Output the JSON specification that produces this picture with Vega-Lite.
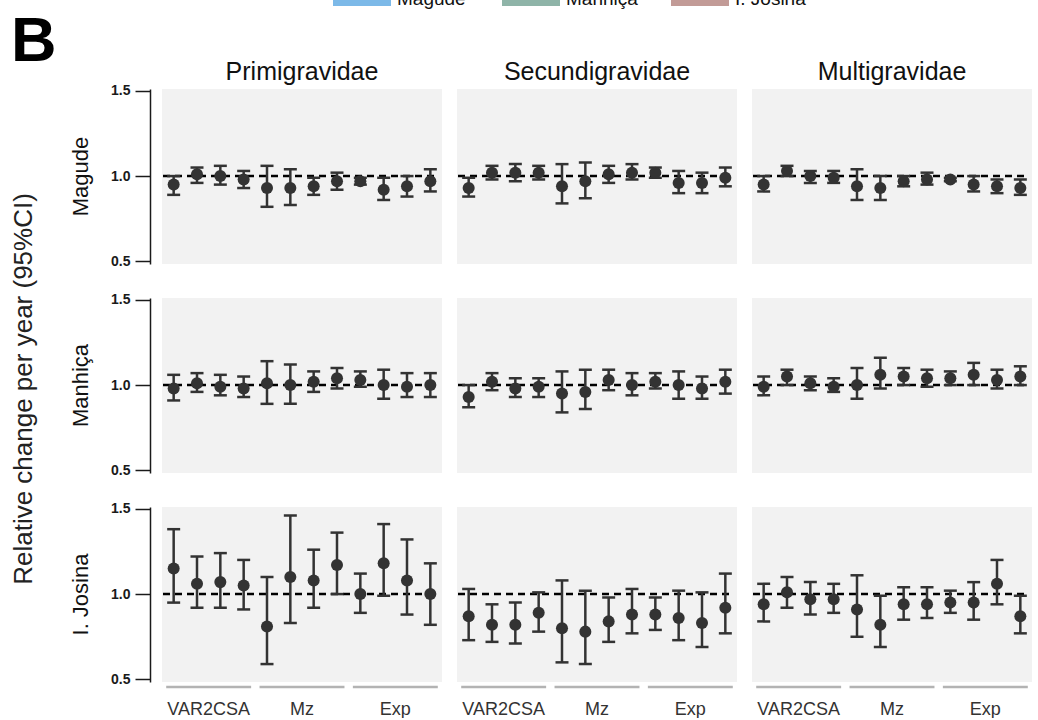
{
  "$schema": "https://vega.github.io/schema/vega-lite/v6.json",
  "padding": {"left": 10, "top": -30, "right": 0, "bottom": 0},
  "title": {"text": "B", "anchor": "start", "frame": "bounds", "fontSize": 63, "fontWeight": "bold", "color": "#000000", "offset": 2, "dy": 106},
  "data": {"values": [
    {"site":"Magude","parity":"Primigravidae","group":"VAR2CSA","item":1,"est":0.95,"lo":0.89,"hi":1.00},
    {"site":"Magude","parity":"Primigravidae","group":"VAR2CSA","item":2,"est":1.01,"lo":0.96,"hi":1.05},
    {"site":"Magude","parity":"Primigravidae","group":"VAR2CSA","item":3,"est":1.00,"lo":0.95,"hi":1.06},
    {"site":"Magude","parity":"Primigravidae","group":"VAR2CSA","item":4,"est":0.98,"lo":0.93,"hi":1.03},
    {"site":"Magude","parity":"Primigravidae","group":"Mz","item":1,"est":0.93,"lo":0.82,"hi":1.06},
    {"site":"Magude","parity":"Primigravidae","group":"Mz","item":2,"est":0.93,"lo":0.83,"hi":1.04},
    {"site":"Magude","parity":"Primigravidae","group":"Mz","item":3,"est":0.94,"lo":0.89,"hi":0.99},
    {"site":"Magude","parity":"Primigravidae","group":"Mz","item":4,"est":0.97,"lo":0.92,"hi":1.02},
    {"site":"Magude","parity":"Primigravidae","group":"Exp","item":1,"est":0.97,"lo":0.95,"hi":0.99},
    {"site":"Magude","parity":"Primigravidae","group":"Exp","item":2,"est":0.92,"lo":0.86,"hi":0.99},
    {"site":"Magude","parity":"Primigravidae","group":"Exp","item":3,"est":0.94,"lo":0.88,"hi":1.00},
    {"site":"Magude","parity":"Primigravidae","group":"Exp","item":4,"est":0.97,"lo":0.91,"hi":1.04},
    {"site":"Magude","parity":"Secundigravidae","group":"VAR2CSA","item":1,"est":0.93,"lo":0.88,"hi":0.99},
    {"site":"Magude","parity":"Secundigravidae","group":"VAR2CSA","item":2,"est":1.02,"lo":0.98,"hi":1.06},
    {"site":"Magude","parity":"Secundigravidae","group":"VAR2CSA","item":3,"est":1.02,"lo":0.97,"hi":1.07},
    {"site":"Magude","parity":"Secundigravidae","group":"VAR2CSA","item":4,"est":1.02,"lo":0.98,"hi":1.06},
    {"site":"Magude","parity":"Secundigravidae","group":"Mz","item":1,"est":0.94,"lo":0.84,"hi":1.07},
    {"site":"Magude","parity":"Secundigravidae","group":"Mz","item":2,"est":0.97,"lo":0.87,"hi":1.08},
    {"site":"Magude","parity":"Secundigravidae","group":"Mz","item":3,"est":1.01,"lo":0.96,"hi":1.06},
    {"site":"Magude","parity":"Secundigravidae","group":"Mz","item":4,"est":1.02,"lo":0.98,"hi":1.07},
    {"site":"Magude","parity":"Secundigravidae","group":"Exp","item":1,"est":1.02,"lo":0.99,"hi":1.05},
    {"site":"Magude","parity":"Secundigravidae","group":"Exp","item":2,"est":0.96,"lo":0.90,"hi":1.03},
    {"site":"Magude","parity":"Secundigravidae","group":"Exp","item":3,"est":0.96,"lo":0.90,"hi":1.02},
    {"site":"Magude","parity":"Secundigravidae","group":"Exp","item":4,"est":0.99,"lo":0.94,"hi":1.05},
    {"site":"Magude","parity":"Multigravidae","group":"VAR2CSA","item":1,"est":0.95,"lo":0.91,"hi":1.00},
    {"site":"Magude","parity":"Multigravidae","group":"VAR2CSA","item":2,"est":1.03,"lo":1.00,"hi":1.06},
    {"site":"Magude","parity":"Multigravidae","group":"VAR2CSA","item":3,"est":1.00,"lo":0.96,"hi":1.03},
    {"site":"Magude","parity":"Multigravidae","group":"VAR2CSA","item":4,"est":0.99,"lo":0.96,"hi":1.03},
    {"site":"Magude","parity":"Multigravidae","group":"Mz","item":1,"est":0.94,"lo":0.86,"hi":1.04},
    {"site":"Magude","parity":"Multigravidae","group":"Mz","item":2,"est":0.93,"lo":0.86,"hi":1.00},
    {"site":"Magude","parity":"Multigravidae","group":"Mz","item":3,"est":0.97,"lo":0.94,"hi":1.00},
    {"site":"Magude","parity":"Multigravidae","group":"Mz","item":4,"est":0.98,"lo":0.95,"hi":1.02},
    {"site":"Magude","parity":"Multigravidae","group":"Exp","item":1,"est":0.98,"lo":0.97,"hi":0.99},
    {"site":"Magude","parity":"Multigravidae","group":"Exp","item":2,"est":0.95,"lo":0.91,"hi":1.00},
    {"site":"Magude","parity":"Multigravidae","group":"Exp","item":3,"est":0.94,"lo":0.90,"hi":0.98},
    {"site":"Magude","parity":"Multigravidae","group":"Exp","item":4,"est":0.93,"lo":0.89,"hi":0.98},
    {"site":"Manhiça","parity":"Primigravidae","group":"VAR2CSA","item":1,"est":0.98,"lo":0.91,"hi":1.06},
    {"site":"Manhiça","parity":"Primigravidae","group":"VAR2CSA","item":2,"est":1.01,"lo":0.96,"hi":1.07},
    {"site":"Manhiça","parity":"Primigravidae","group":"VAR2CSA","item":3,"est":0.99,"lo":0.94,"hi":1.06},
    {"site":"Manhiça","parity":"Primigravidae","group":"VAR2CSA","item":4,"est":0.98,"lo":0.93,"hi":1.05},
    {"site":"Manhiça","parity":"Primigravidae","group":"Mz","item":1,"est":1.01,"lo":0.89,"hi":1.14},
    {"site":"Manhiça","parity":"Primigravidae","group":"Mz","item":2,"est":1.00,"lo":0.89,"hi":1.12},
    {"site":"Manhiça","parity":"Primigravidae","group":"Mz","item":3,"est":1.02,"lo":0.96,"hi":1.08},
    {"site":"Manhiça","parity":"Primigravidae","group":"Mz","item":4,"est":1.04,"lo":0.98,"hi":1.10},
    {"site":"Manhiça","parity":"Primigravidae","group":"Exp","item":1,"est":1.03,"lo":0.99,"hi":1.08},
    {"site":"Manhiça","parity":"Primigravidae","group":"Exp","item":2,"est":1.00,"lo":0.92,"hi":1.09},
    {"site":"Manhiça","parity":"Primigravidae","group":"Exp","item":3,"est":0.99,"lo":0.93,"hi":1.07},
    {"site":"Manhiça","parity":"Primigravidae","group":"Exp","item":4,"est":1.00,"lo":0.93,"hi":1.07},
    {"site":"Manhiça","parity":"Secundigravidae","group":"VAR2CSA","item":1,"est":0.93,"lo":0.87,"hi":1.00},
    {"site":"Manhiça","parity":"Secundigravidae","group":"VAR2CSA","item":2,"est":1.02,"lo":0.97,"hi":1.07},
    {"site":"Manhiça","parity":"Secundigravidae","group":"VAR2CSA","item":3,"est":0.98,"lo":0.93,"hi":1.04},
    {"site":"Manhiça","parity":"Secundigravidae","group":"VAR2CSA","item":4,"est":0.99,"lo":0.93,"hi":1.04},
    {"site":"Manhiça","parity":"Secundigravidae","group":"Mz","item":1,"est":0.95,"lo":0.84,"hi":1.08},
    {"site":"Manhiça","parity":"Secundigravidae","group":"Mz","item":2,"est":0.96,"lo":0.86,"hi":1.09},
    {"site":"Manhiça","parity":"Secundigravidae","group":"Mz","item":3,"est":1.03,"lo":0.97,"hi":1.09},
    {"site":"Manhiça","parity":"Secundigravidae","group":"Mz","item":4,"est":1.00,"lo":0.94,"hi":1.07},
    {"site":"Manhiça","parity":"Secundigravidae","group":"Exp","item":1,"est":1.02,"lo":0.98,"hi":1.07},
    {"site":"Manhiça","parity":"Secundigravidae","group":"Exp","item":2,"est":1.00,"lo":0.92,"hi":1.08},
    {"site":"Manhiça","parity":"Secundigravidae","group":"Exp","item":3,"est":0.98,"lo":0.92,"hi":1.05},
    {"site":"Manhiça","parity":"Secundigravidae","group":"Exp","item":4,"est":1.02,"lo":0.95,"hi":1.09},
    {"site":"Manhiça","parity":"Multigravidae","group":"VAR2CSA","item":1,"est":0.99,"lo":0.94,"hi":1.05},
    {"site":"Manhiça","parity":"Multigravidae","group":"VAR2CSA","item":2,"est":1.05,"lo":1.00,"hi":1.09},
    {"site":"Manhiça","parity":"Multigravidae","group":"VAR2CSA","item":3,"est":1.01,"lo":0.97,"hi":1.05},
    {"site":"Manhiça","parity":"Multigravidae","group":"VAR2CSA","item":4,"est":0.99,"lo":0.96,"hi":1.04},
    {"site":"Manhiça","parity":"Multigravidae","group":"Mz","item":1,"est":1.00,"lo":0.92,"hi":1.10},
    {"site":"Manhiça","parity":"Multigravidae","group":"Mz","item":2,"est":1.06,"lo":0.98,"hi":1.16},
    {"site":"Manhiça","parity":"Multigravidae","group":"Mz","item":3,"est":1.05,"lo":1.00,"hi":1.10},
    {"site":"Manhiça","parity":"Multigravidae","group":"Mz","item":4,"est":1.04,"lo":0.99,"hi":1.09},
    {"site":"Manhiça","parity":"Multigravidae","group":"Exp","item":1,"est":1.04,"lo":1.00,"hi":1.08},
    {"site":"Manhiça","parity":"Multigravidae","group":"Exp","item":2,"est":1.06,"lo":1.00,"hi":1.13},
    {"site":"Manhiça","parity":"Multigravidae","group":"Exp","item":3,"est":1.03,"lo":0.98,"hi":1.09},
    {"site":"Manhiça","parity":"Multigravidae","group":"Exp","item":4,"est":1.05,"lo":1.00,"hi":1.11},
    {"site":"I. Josina","parity":"Primigravidae","group":"VAR2CSA","item":1,"est":1.15,"lo":0.95,"hi":1.38},
    {"site":"I. Josina","parity":"Primigravidae","group":"VAR2CSA","item":2,"est":1.06,"lo":0.92,"hi":1.22},
    {"site":"I. Josina","parity":"Primigravidae","group":"VAR2CSA","item":3,"est":1.07,"lo":0.92,"hi":1.24},
    {"site":"I. Josina","parity":"Primigravidae","group":"VAR2CSA","item":4,"est":1.05,"lo":0.91,"hi":1.20},
    {"site":"I. Josina","parity":"Primigravidae","group":"Mz","item":1,"est":0.81,"lo":0.59,"hi":1.10},
    {"site":"I. Josina","parity":"Primigravidae","group":"Mz","item":2,"est":1.10,"lo":0.83,"hi":1.46},
    {"site":"I. Josina","parity":"Primigravidae","group":"Mz","item":3,"est":1.08,"lo":0.92,"hi":1.26},
    {"site":"I. Josina","parity":"Primigravidae","group":"Mz","item":4,"est":1.17,"lo":1.00,"hi":1.36},
    {"site":"I. Josina","parity":"Primigravidae","group":"Exp","item":1,"est":1.00,"lo":0.89,"hi":1.12},
    {"site":"I. Josina","parity":"Primigravidae","group":"Exp","item":2,"est":1.18,"lo":0.99,"hi":1.41},
    {"site":"I. Josina","parity":"Primigravidae","group":"Exp","item":3,"est":1.08,"lo":0.88,"hi":1.32},
    {"site":"I. Josina","parity":"Primigravidae","group":"Exp","item":4,"est":1.00,"lo":0.82,"hi":1.18},
    {"site":"I. Josina","parity":"Secundigravidae","group":"VAR2CSA","item":1,"est":0.87,"lo":0.73,"hi":1.03},
    {"site":"I. Josina","parity":"Secundigravidae","group":"VAR2CSA","item":2,"est":0.82,"lo":0.72,"hi":0.94},
    {"site":"I. Josina","parity":"Secundigravidae","group":"VAR2CSA","item":3,"est":0.82,"lo":0.71,"hi":0.95},
    {"site":"I. Josina","parity":"Secundigravidae","group":"VAR2CSA","item":4,"est":0.89,"lo":0.78,"hi":1.01},
    {"site":"I. Josina","parity":"Secundigravidae","group":"Mz","item":1,"est":0.80,"lo":0.60,"hi":1.08},
    {"site":"I. Josina","parity":"Secundigravidae","group":"Mz","item":2,"est":0.78,"lo":0.59,"hi":1.02},
    {"site":"I. Josina","parity":"Secundigravidae","group":"Mz","item":3,"est":0.84,"lo":0.72,"hi":0.98},
    {"site":"I. Josina","parity":"Secundigravidae","group":"Mz","item":4,"est":0.88,"lo":0.77,"hi":1.03},
    {"site":"I. Josina","parity":"Secundigravidae","group":"Exp","item":1,"est":0.88,"lo":0.79,"hi":0.98},
    {"site":"I. Josina","parity":"Secundigravidae","group":"Exp","item":2,"est":0.86,"lo":0.73,"hi":1.02},
    {"site":"I. Josina","parity":"Secundigravidae","group":"Exp","item":3,"est":0.83,"lo":0.69,"hi":1.01},
    {"site":"I. Josina","parity":"Secundigravidae","group":"Exp","item":4,"est":0.92,"lo":0.77,"hi":1.12},
    {"site":"I. Josina","parity":"Multigravidae","group":"VAR2CSA","item":1,"est":0.94,"lo":0.84,"hi":1.06},
    {"site":"I. Josina","parity":"Multigravidae","group":"VAR2CSA","item":2,"est":1.01,"lo":0.92,"hi":1.10},
    {"site":"I. Josina","parity":"Multigravidae","group":"VAR2CSA","item":3,"est":0.97,"lo":0.88,"hi":1.07},
    {"site":"I. Josina","parity":"Multigravidae","group":"VAR2CSA","item":4,"est":0.97,"lo":0.89,"hi":1.06},
    {"site":"I. Josina","parity":"Multigravidae","group":"Mz","item":1,"est":0.91,"lo":0.75,"hi":1.11},
    {"site":"I. Josina","parity":"Multigravidae","group":"Mz","item":2,"est":0.82,"lo":0.69,"hi":0.99},
    {"site":"I. Josina","parity":"Multigravidae","group":"Mz","item":3,"est":0.94,"lo":0.85,"hi":1.04},
    {"site":"I. Josina","parity":"Multigravidae","group":"Mz","item":4,"est":0.94,"lo":0.86,"hi":1.04},
    {"site":"I. Josina","parity":"Multigravidae","group":"Exp","item":1,"est":0.95,"lo":0.89,"hi":1.02},
    {"site":"I. Josina","parity":"Multigravidae","group":"Exp","item":2,"est":0.95,"lo":0.85,"hi":1.07},
    {"site":"I. Josina","parity":"Multigravidae","group":"Exp","item":3,"est":1.06,"lo":0.94,"hi":1.20},
    {"site":"I. Josina","parity":"Multigravidae","group":"Exp","item":4,"est":0.87,"lo":0.77,"hi":0.99}
  ]},
  "facet": {
    "row": {"field": "site", "type": "nominal", "sort": ["Magude", "Manhiça", "I. Josina"], "title": "Relative change per year (95%CI)"},
    "column": {"field": "parity", "type": "nominal", "sort": ["Primigravidae", "Secundigravidae", "Multigravidae"], "title": null}
  },
  "spacing": {"row": 27, "column": 13},
  "spec": {
    "width": 280,
    "height": 175,
    "layer": [
      {
        "transform": [{"filter": "datum.group === 'VAR2CSA' && datum.item === 1"}],
        "mark": {"type": "rule", "strokeDash": [7, 5], "strokeWidth": 2.5, "color": "#000000", "xOffset": -8, "x2Offset": 8},
        "encoding": {
          "y": {"datum": 1, "type": "quantitative", "scale": {"domain": [0.485, 1.51], "zero": false, "nice": false}, "axis": {"values": [0.5, 1, 1.5], "format": ".1f", "title": null}}
        }
      },
      {
        "encoding": {
          "x": {"field": "group", "type": "nominal", "sort": ["VAR2CSA", "Mz", "Exp"], "scale": {"paddingInner": 0, "paddingOuter": 0}, "title": null},
          "xOffset": {"field": "item", "type": "ordinal", "scale": {"paddingInner": 0, "paddingOuter": 0}}
        },
        "layer": [
          {
            "mark": {"type": "rule", "strokeWidth": 2.5, "color": "#333333"},
            "encoding": {
              "y": {"field": "lo", "type": "quantitative", "scale": {"domain": [0.485, 1.51], "zero": false, "nice": false}, "axis": {"values": [0.5, 1, 1.5], "format": ".1f", "title": null}},
              "y2": {"field": "hi"}
            }
          },
          {
            "mark": {"type": "tick", "orient": "horizontal", "size": 13, "thickness": 2.5, "color": "#333333", "opacity": 1},
            "encoding": {
              "y": {"field": "lo", "type": "quantitative", "scale": {"domain": [0.485, 1.51], "zero": false, "nice": false}, "axis": {"values": [0.5, 1, 1.5], "format": ".1f", "title": null}}
            }
          },
          {
            "mark": {"type": "tick", "orient": "horizontal", "size": 13, "thickness": 2.5, "color": "#333333", "opacity": 1},
            "encoding": {
              "y": {"field": "hi", "type": "quantitative", "scale": {"domain": [0.485, 1.51], "zero": false, "nice": false}, "axis": {"values": [0.5, 1, 1.5], "format": ".1f", "title": null}}
            }
          },
          {
            "mark": {"type": "circle", "size": 145, "color": "#333333", "opacity": 1},
            "encoding": {
              "y": {"field": "est", "type": "quantitative", "scale": {"domain": [0.485, 1.51], "zero": false, "nice": false}, "axis": {"values": [0.5, 1, 1.5], "format": ".1f", "title": null}}
            }
          },
          {
            "mark": {"type": "square", "filled": true, "opacity": 0, "size": 10},
            "encoding": {
              "y": {"field": "est", "type": "quantitative", "scale": {"domain": [0.485, 1.51], "zero": false, "nice": false}, "axis": {"values": [0.5, 1, 1.5], "format": ".1f", "title": null}},
              "color": {
                "field": "site", "type": "nominal",
                "scale": {"domain": ["Magude", "Manhiça", "I. Josina"], "range": ["#7cb9e8", "#8fb4a8", "#c29b97"]},
                "legend": {
                  "title": null, "orient": "none", "legendX": 171, "legendY": -119, "direction": "horizontal",
                  "symbolType": "M-1,-0.24H1V0.24H-1Z", "symbolSize": 3364, "symbolOpacity": 1, "symbolStrokeWidth": 0,
                  "labelFontSize": 19, "labelOffset": 6, "columnPadding": 33, "gridAlign": "all", "labelColor": "#111111"
                }
              }
            }
          }
        ]
      },
      {
        "transform": [{"filter": "datum.site === 'I. Josina' && datum.item === 1"}],
        "mark": {"type": "bar", "width": {"band": 0.91}, "color": "#b3b3b3"},
        "encoding": {
          "x": {"field": "group", "type": "nominal", "sort": ["VAR2CSA", "Mz", "Exp"], "scale": {"paddingInner": 0, "paddingOuter": 0}, "title": null},
          "y": {"datum": 0.4635, "type": "quantitative", "scale": {"domain": [0.485, 1.51], "zero": false, "nice": false}, "axis": {"values": [0.5, 1, 1.5], "format": ".1f", "title": null}},
          "y2": {"datum": 0.4485}
        }
      }
    ]
  },
  "config": {
    "font": "Liberation Sans",
    "view": {"fill": "#f2f2f2", "stroke": null},
    "axisX": {"domain": false, "ticks": false, "grid": false, "labelAngle": 0, "labelFontSize": 18, "labelColor": "#333333", "labelPadding": 11},
    "axisY": {"grid": false, "offset": 10, "domainColor": "#1a1a1a", "domainWidth": 1.5, "tickColor": "#1a1a1a", "tickWidth": 1.5, "tickSize": 15, "labelFontSize": 14, "labelFontWeight": "bold", "labelColor": "#1a1a1a", "labelPadding": 5},
    "headerColumn": {"labelFontSize": 25, "labelPadding": 4, "labelColor": "#111111"},
    "headerRow": {"labelFontSize": 22, "labelPadding": 18, "labelColor": "#111111", "titleFontSize": 26, "titleFontWeight": "normal", "titleColor": "#222222", "titlePadding": 22}
  }
}
